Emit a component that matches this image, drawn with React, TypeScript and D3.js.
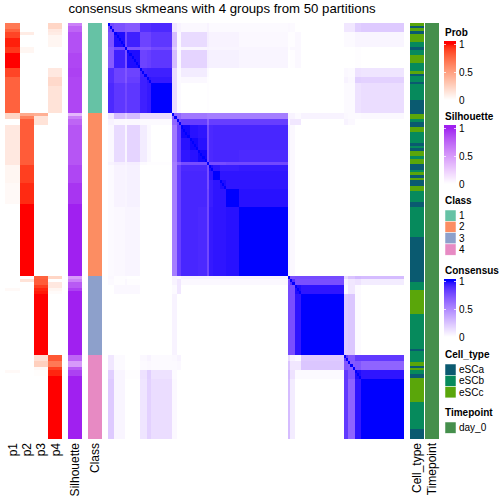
import React from "react";
import * as d3 from "d3";

type Run = [number, number];
const classCounts = [30, 54, 26, 28];
const classColors = ["#66c2a5", "#fc8d62", "#8da0cb", "#e78ac3"];
const classNames = ["1", "2", "3", "4"];
const cellTypeNames = ["eSCa", "eSCb", "eSCc"];
const cellTypeColors = ["#0a5a70", "#068a5c", "#5aa60a"];
const timepointColor = "#458f4c";

const p1Runs: Run[] = [[.68,2],[.78,1],[.88,2],[.97,3],[.92,2],[1,5],[.88,3],[.78,12],[.22,2],[0,2],[.12,13],[.05,6],[.03,7],[0,24],[0,4],[.03,1],[0,21],[0,5],[.03,1],[0,22]];
const p2Runs: Run[] = [[0,3],[.1,1],[0,4],[.05,2],[0,20],[.45,1],[.65,1],[.8,15],[.9,6],[.95,7],[1,24],[0,1],[.15,1],[0,24],[0,28]];
const p3Runs: Run[] = [[0,30],[.42,1],[.15,3],[0,50],[.78,1],[.8,2],[.9,1],[.96,1],[.98,1],[1,20],[.17,2],[.25,2],[.03,1],[.01,2],[0,21]];
const p4Runs: Run[] = [[.22,2],[.12,1],[.1,1],[.05,4],[0,7],[.12,3],[.2,3],[.15,9],[0,54],[.22,1],[0,1],[.12,2],[.05,1],[.02,1],[0,20],[.82,2],[.68,2],[.9,1],[.96,2],[1,21]];
const silhouetteRuns: Run[] = [[.62,1],[.75,2],[.84,7],[.88,5],[.9,3],[.88,12],[.35,1],[.62,1],[.75,2],[.82,13],[.88,6],[.94,7],[1,24],[.5,1],[.62,1],[.8,2],[.9,1],[1,21],[.75,2],[.5,2],[.8,1],[.9,2],[1,21]];
// cell type runs: [type index, length on a 416-unit column]
const cellTypeRuns: Run[] = [[2,3],[0,2],[2,3],[0,3],[2,8],[1,5],[0,3],[1,5],[2,8],[1,8],[2,3],[0,2],[1,6],[0,2],[1,16],[0,14],[2,5],[1,3],[0,5],[2,5],[1,11],[0,3],[1,2],[0,3],[2,5],[1,3],[2,5],[0,6],[1,2],[2,3],[0,3],[2,2],[0,6],[2,5],[1,11],[0,5],[1,30],[0,45],[1,8],[2,24],[1,35],[0,2],[1,11],[2,4],[0,2],[2,2],[1,4],[0,4],[2,24],[1,27],[0,10]];

// consensus blocks: size of each block of samples, then lower triangle of block-to-block values
const blockSizes = [3,5,1,6,3,2,10, 2,2,4,4,4,1,2,3,3,6,23, 1,2,3,20, 2,3,3,20];
const blockConsensus: number[][] = [
  [.78],
  [.74,.98],
  [.7,.78,1],
  [.7,.93,.74,.98],
  [.88,.8,.72,.8,.92],
  [.88,.8,.72,.82,.93,.96],
  [.9,.85,.78,.85,.93,.95,1],
  [.1,.28,.2,.28,.15,.15,.15,.65],
  [.05,.03,.02,.03,.02,.02,.02,.65,.78],
  [.03,.15,.04,.18,.08,.03,0,.58,.82,.99],
  [.03,.15,.04,.18,.08,.03,0,.58,.82,.97,.99],
  [.03,.15,.04,.18,.08,.03,0,.58,.82,.96,.97,.99],
  [.05,.07,.05,.07,.02,.01,.01,.55,.68,.76,.76,.76,1],
  [.02,.05,.04,.06,0,0,0,.55,.82,.9,.9,.9,.76,.98],
  [.02,.05,.04,.06,0,0,0,.55,.82,.91,.91,.91,.76,.96,1],
  [.02,.05,.04,.06,0,0,0,.55,.82,.91,.91,.91,.76,.94,.96,.98],
  [.02,.05,.04,.06,0,0,0,.55,.82,.91,.91,.91,.78,.94,.96,.96,1],
  [.02,.03,.04,.04,0,0,0,.55,.82,.91,.91,.9,.78,.95,.96,.96,.97,1],
  [.03,.01,.01,0,0,0,0,.05,.03,.06,.06,.06,.06,.06,.06,.06,.06,.06,1],
  [.02,.01,.03,.01,0,0,0,.05,.1,.03,.03,.03,.03,.03,.03,.03,.03,.03,.75,.88],
  [0,.03,.03,.03,0,0,0,.02,.1,0,0,0,0,0,0,0,0,0,.77,.75,.98],
  [0,0,0,0,0,0,0,.05,0,0,0,0,0,0,0,0,0,0,.77,.75,.96,1],
  [.1,.02,0,0,.03,.05,.02,.03,.05,0,0,0,0,0,0,0,0,0,.15,.05,.02,.22,.84],
  [.1,.02,0,0,.02,.03,.02,.02,.03,0,0,0,0,0,0,0,0,0,.25,.1,.1,.24,.72,.7],
  [.2,.04,.01,.01,.12,.2,.12,.02,0,0,0,0,0,0,0,0,0,0,.3,.12,.02,.02,.84,.72,.98],
  [.22,.04,0,0,.11,.19,.14,.03,0,0,0,0,0,0,0,0,0,0,.28,.08,0,0,.84,.66,.96,1],
];

const title = "consensus skmeans with 4 groups from 50 partitions";
const probTicks = [1, 0.5, 0];

const expand = (runs: Run[]) => runs.flatMap(([v, n]) => d3.range(n).map(() => v));
const N = d3.sum(classCounts);
const yTop = 23, yBottom = 439;
const font = "'Liberation Sans', Arial, sans-serif";
const y = d3.scaleLinear().domain([0, N]).range([yTop, yBottom]);
const yFine = d3.scaleLinear().domain([0, 416]).range([yTop, yBottom]);
const hmX = d3.scaleLinear().domain([0, N]).range([108, 404]);
const white = "#ffffff";
const probColor = d3.scaleLinear<string>().domain([0, 1]).range([white, "#ff0000"]).interpolate(d3.interpolateLab);
const silColor = d3.scaleLinear<string>().domain([0, 1]).range([white, "#a020f0"]).interpolate(d3.interpolateLab);
const consColor = d3.scaleLinear<string>().domain([0, 1]).range([white, "#0000ff"]).interpolate(d3.interpolateLab);

const CellColumn = ({ x, w, values, color }: { x: number; w: number; values: number[]; color: (v: number) => string }) => (
  <g shapeRendering="crispEdges">
    {values.map((v, i) => (
      <rect key={i} x={x} y={y(i)} width={w} height={y(i + 1) - y(i)} fill={color(v)} />
    ))}
  </g>
);

const ColorBar = ({ top, pos1, pos0, color }: { top: number; pos1: number; pos0: number; color: (v: number) => string }) => {
  const s = d3.scaleLinear().domain([1, 0]).range([pos1, pos0]);
  const rows = d3.range(top, pos0);
  return (
    <g>
      <g shapeRendering="crispEdges">
        {rows.map((py) => (
          <rect key={py} x={444} y={py} width={12} height={1} fill={color(Math.min(1, Math.max(0, s.invert(py + 0.5))))} />
        ))}
        {probTicks.slice(0, 2).map((t) => (
          <g key={t}>
            <rect x={444} y={Math.round(s(t))} width={2} height={1} fill="#fff" opacity={0.75} />
            <rect x={454} y={Math.round(s(t))} width={2} height={1} fill="#fff" opacity={0.75} />
          </g>
        ))}
      </g>
      {probTicks.map((t) => (
        <text key={t} x={459} y={s(t) + 3.5} fontSize={10} fontFamily={font}>{t}</text>
      ))}
    </g>
  );
};

const Swatches = ({ top, colors, labels }: { top: number; colors: string[]; labels: string[] }) => {
  const s = d3.scaleBand<string>().domain(labels).range([top, top + labels.length * 11.3]);
  return (
    <g>
      {labels.map((l, i) => (
        <g key={l}>
          <rect x={445} y={s(l)} width={11} height={s.bandwidth()} fill={colors[i]} stroke="#fff" strokeWidth={0.5} />
          <text x={459} y={(s(l) as number) + 9} fontSize={10} fontFamily={font}>{l}</text>
        </g>
      ))}
    </g>
  );
};

const VLabel = ({ x, label }: { x: number; label: string }) => (
  <text transform={`translate(${x},443) rotate(-90)`} textAnchor="end" fontSize={12} fontFamily={font}>{label}</text>
);
const LegendTitle = ({ y: ty, label }: { y: number; label: string }) => (
  <text x={445} y={ty} fontSize={10} fontWeight="bold" fontFamily={font}>{label}</text>
);

export default function App() {
  const starts = d3.cumsum([0, ...blockSizes]);
  const consensusAt = (i: number, j: number) => (i >= j ? blockConsensus[i][j] : blockConsensus[j][i]);
  const classRuns = d3.cumsum([0, ...classCounts]);
  const ctStarts = d3.cumsum([0, ...cellTypeRuns.map((r) => r[1])]);
  return (
    <svg width={504} height={504} style={{ position: "absolute", left: 0, top: 0, background: "#fff" }}>
      <text x={222} y={13} textAnchor="middle" fontSize={13.2} fontFamily={font}>{title}</text>

      {[p1Runs, p2Runs, p3Runs, p4Runs].map((r, k) => (
        <CellColumn key={k} x={[5, 20, 34, 48][k]} w={[15, 14, 14, 14][k]} values={expand(r)} color={probColor} />
      ))}
      <CellColumn x={68} w={14} values={expand(silhouetteRuns)} color={silColor} />
      <g shapeRendering="crispEdges">
        {classCounts.map((_, k) => (
          <rect key={k} x={88} y={y(classRuns[k])} width={14} height={y(classRuns[k + 1]) - y(classRuns[k])} fill={classColors[k]} />
        ))}
      </g>

      <g shapeRendering="crispEdges">
        {blockSizes.map((_, r) =>
          blockSizes.map((__, c) => (
            <rect key={`${r}-${c}`} x={hmX(starts[c])} y={y(starts[r])} width={hmX(starts[c + 1]) - hmX(starts[c])} height={y(starts[r + 1]) - y(starts[r])} fill={consColor(consensusAt(r, c))} />
          ))
        )}
        {d3.range(N).map((i) => (
          <rect key={i} x={hmX(i)} y={y(i)} width={hmX(i + 1) - hmX(i)} height={y(i + 1) - y(i)} fill={consColor(1)} />
        ))}
      </g>

      <g shapeRendering="crispEdges">
        {cellTypeRuns.map(([t, n], i) => (
          <rect key={i} x={410} y={yFine(ctStarts[i])} width={14} height={yFine(n) - yFine(0)} fill={cellTypeColors[t]} />
        ))}
        <rect x={425} y={yTop} width={14} height={yBottom - yTop} fill={timepointColor} />
      </g>

      {["p1", "p2", "p3", "p4"].map((l, k) => (
        <VLabel key={l} x={[17, 31, 45, 60][k]} label={l} />
      ))}
      <VLabel x={79} label="Silhouette" />
      <VLabel x={99} label="Class" />
      <VLabel x={421} label="Cell_type" />
      <VLabel x={436} label="Timepoint" />

      <LegendTitle y={36} label="Prob" />
      <ColorBar top={41} pos1={44} pos0={100} color={probColor} />
      <LegendTitle y={120} label="Silhouette" />
      <ColorBar top={125} pos1={128} pos0={184} color={silColor} />
      <LegendTitle y={204} label="Class" />
      <Swatches top={210} colors={classColors} labels={classNames} />
      <LegendTitle y={274} label="Consensus" />
      <ColorBar top={279} pos1={281} pos0={337} color={consColor} />
      <LegendTitle y={358} label="Cell_type" />
      <Swatches top={364} colors={cellTypeColors} labels={cellTypeNames} />
      <LegendTitle y={416} label="Timepoint" />
      <Swatches top={422} colors={[timepointColor]} labels={["day_0"]} />
    </svg>
  );
}
